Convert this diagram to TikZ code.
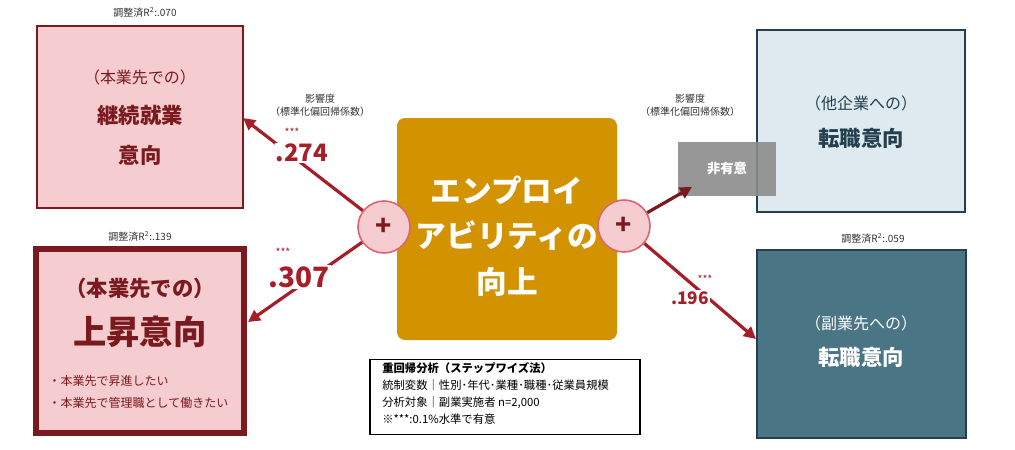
\documentclass[tikz,border=0pt]{standalone}
\usepackage{fontspec}
\setmainfont{Noto Sans CJK JP}
\usetikzlibrary{arrows.meta}
\definecolor{pk}{HTML}{F5CCCF}
\definecolor{dr}{HTML}{7B1A1E}
\definecolor{ar}{HTML}{A51E28}
\definecolor{gold}{HTML}{D39200}
\definecolor{lb}{HTML}{DEEAF0}
\definecolor{sl}{HTML}{243F4E}
\definecolor{tl}{HTML}{497585}
\definecolor{cb}{HTML}{E06470}
\begin{document}
\begin{tikzpicture}[x=0.75pt,y=-0.75pt,
  small/.style={font=\fontsize{7.5}{9}\selectfont,text=black!80},
  num/.style={font=\fontsize{18}{20}\selectfont\bfseries,text=ar,fill=white,inner sep=1pt},
  star/.style={font=\fontsize{8}{9}\selectfont,text=ar},
  arr/.style={draw=ar,line width=2.4pt,-{Triangle[length=9pt,width=9pt]}},
  plus/.style={circle,draw=cb,line width=1.2pt,fill=pk,minimum size=39pt,font=\fontsize{20}{20}\selectfont\bfseries,text=dr}]
\useasboundingbox (0,0) rectangle (1015,450);
% boxes
\node[draw=dr,line width=1pt,fill=pk,minimum width=154.5pt,minimum height=136.5pt] (tl) at (140,117) {};
\node[draw=dr,line width=4.5pt,fill=pk,minimum width=156pt,minimum height=138pt] (bl) at (139.5,340.5) {};
\node[draw=sl,line width=1pt,fill=lb,minimum width=156pt,minimum height=136.5pt] (tr) at (861,121) {};
\node[draw=sl,line width=1pt,fill=tl,minimum width=156.75pt,minimum height=141pt] (br) at (861.5,344) {};
\node[fill=gold,rounded corners=6pt,minimum width=165pt,minimum height=166.5pt] (c) at (507,229) {};
\node[fill=black!45,opacity=0.9,minimum width=73.5pt,minimum height=40.5pt] (ns) at (727,169) {};
\node[text=white,font=\fontsize{10}{12}\selectfont\bfseries] (nst) at (727,169) {非有意};
% labels
\node[small] (r1) at (145,12) {調整済R\textsuperscript{2}:.070};
\node[small] (r2) at (140,236) {調整済R\textsuperscript{2}:.139};
\node[small] (r3) at (873,238) {調整済R\textsuperscript{2}:.059};
\node[font=\fontsize{12}{14}\selectfont,text=dr] (t1) at (140,77) {（本業先での）};
\node[font=\fontsize{16}{18}\selectfont\bfseries,text=dr] (t2) at (140,115) {継続就業};
\node[font=\fontsize{16}{18}\selectfont\bfseries,text=dr] (t3) at (140,155) {意向};
\node[font=\fontsize{16}{18}\selectfont\bfseries,text=dr] (b1) at (140,288) {（本業先での）};
\node[font=\fontsize{25}{28}\selectfont\bfseries,text=dr] (b2) at (140,332) {上昇意向};
\node[font=\fontsize{9}{11}\selectfont,text=dr,anchor=west] (b3) at (44,381) {・本業先で昇進したい};
\node[font=\fontsize{9}{11}\selectfont,text=dr,anchor=west] (b4) at (44,403) {・本業先で管理職として働きたい};
\node[font=\fontsize{12}{14}\selectfont,text=sl] (u1) at (861,103) {（他企業への）};
\node[font=\fontsize{16}{18}\selectfont\bfseries,text=sl] (u2) at (861,138) {転職意向};
\node[font=\fontsize{12}{14}\selectfont,text=white] (v1) at (861,323) {（副業先への）};
\node[font=\fontsize{16}{18}\selectfont\bfseries,text=white] (v2) at (861,357) {転職意向};
\node[font=\fontsize{23}{26}\selectfont\bfseries,text=white,align=center] (ct) at (507,236) {エンプロイ\\[8pt]アビリティの\\[8pt]向上};
% circles
\node[plus] (pl) at (384,227) {+};
\node[plus] (pr) at (624,226) {+};
% arrows
\coordinate (a1) at (243,118);
\coordinate (a2) at (248,322);
\coordinate (a3) at (692,187);
\coordinate (a4) at (756,339);
\draw[arr] (pl) -- (a1);
\draw[arr] (pl) -- (a2);
\draw[arr,draw=dr] (pr) -- (a3);
\draw[arr] (pr) -- (a4);
\node[small,align=center,font=\fontsize{7.5}{9.5}\selectfont] (k1) at (320,105) {影響度\\（標準化偏回帰係数）};
\node[small,align=center,font=\fontsize{7.5}{9.5}\selectfont] (k2) at (690,105) {影響度\\（標準化偏回帰係数）};
\node[num] (n1) at (302,153) {.274};
\node[star] (s1) at (292,132) {***};
\node[num,font=\fontsize{21}{22}\selectfont\bfseries] (n2) at (299,277) {.307};
\node[star] (s2) at (283,252) {***};
\node[num,font=\fontsize{13}{14}\selectfont\bfseries] (n3) at (690,298) {.196};
\node[star] (s3) at (705,279) {***};
% note
\node[draw=black,line width=0.8pt,fill=white,minimum width=202.5pt,minimum height=56pt] (nb) at (505,397) {};
\node[anchor=north west,align=left,font=\fontsize{8.5}{12.8}\selectfont,inner sep=0pt] (nt) at (382,362) {\textbf{重回帰分析（ステップワイズ法）}\\統制変数｜性別･年代･業種･職種･従業員規模\\分析対象｜副業実施者 n=2,000\\※***:0.1\%水準で有意};
\end{tikzpicture}
\end{document}
